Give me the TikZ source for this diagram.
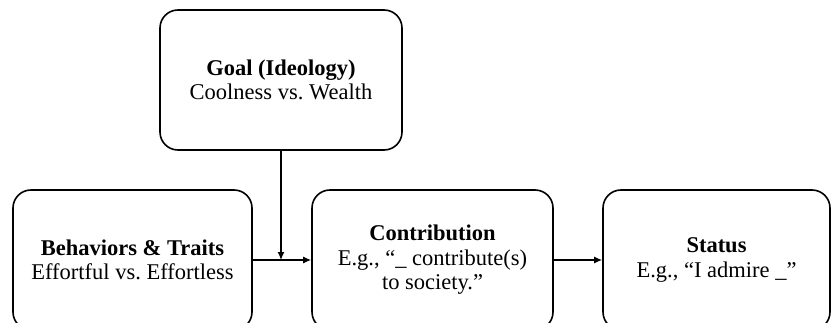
\documentclass[tikz,border=0pt]{standalone}
\usepackage{fontspec}
\setmainfont{Liberation Serif}
\usepackage{tikz}
\usetikzlibrary{arrows.meta}
\frenchspacing

\tikzset{
	box/.style={draw,line width=1.6pt,rounded corners=18pt,align=center,
		font=\fontsize{22.5}{24.5}\selectfont,inner sep=0pt},
	link/.style={line width=1.3pt,-{Latex[length=8pt,width=7pt]}}
}

\begin{document}
\begin{tikzpicture}[x=1pt,y=-1pt]
	\useasboundingbox (0,0) rectangle (832,323);
	
	\node[box,minimum width=242pt,minimum height=140pt] (goal) at (281,80)
		{\textbf{Goal (Ideology)}\\Coolness vs. Wealth};
	
	\node[box,minimum width=239pt,minimum height=140pt] (behav) at (132.5,260)
		{\textbf{Behaviors \& Traits}\\Effortful vs. Effortless};
	\node[box,minimum width=241pt,minimum height=140pt] (contrib) at (432.5,260)
		{\textbf{Contribution}\\E.g., “\_ contribute(s)\\to society.”};
	\node[box,minimum width=227pt,minimum height=140pt] (status) at (716.5,260)
		{\textbf{Status}\\E.g., “I admire \_”};
	
	\coordinate (meet) at (goal.south |- behav.east);
	\draw[link] (behav) -- (contrib);
	\draw[link] (goal) -- (meet);
	\draw[link] (contrib) -- (status);
\end{tikzpicture}
\end{document}
